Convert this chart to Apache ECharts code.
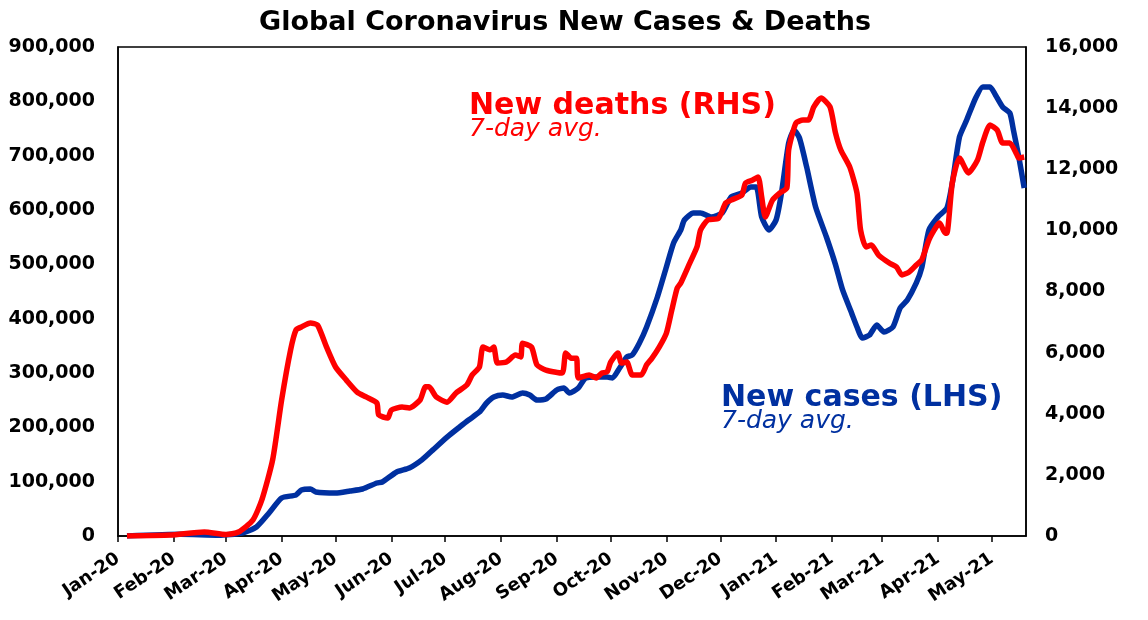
<!DOCTYPE html>
<html>
<head>
<meta charset="utf-8">
<script src="https://cdn.jsdelivr.net/npm/echarts@6/dist/echarts.min.js"></script>
<style>
html,body{margin:0;padding:0;background:#fff;}
#chart{width:1148px;height:620px;}
</style>
</head>
<body>
<div id="chart"></div>
<script>
// ---- data ----
const titleText = 'Global Coronavirus New Cases & Deaths';
const monthLabels = ['Jan','Feb','Mar','Apr','May','Jun','Jul','Aug','Sep','Oct','Nov','Dec'];

const caseDates = ['2020-01-06','2020-02-05','2020-02-26','2020-03-10','2020-03-18','2020-03-25','2020-04-01','2020-04-09','2020-04-12','2020-04-17','2020-04-20','2020-05-01','2020-05-09','2020-05-16','2020-05-24','2020-05-27','2020-06-04','2020-06-11','2020-06-18','2020-06-24','2020-07-02','2020-07-09','2020-07-14','2020-07-20','2020-07-24','2020-07-28','2020-08-02','2020-08-07','2020-08-13','2020-08-17','2020-08-21','2020-08-26','2020-09-01','2020-09-05','2020-09-08','2020-09-13','2020-09-17','2020-09-23','2020-09-29','2020-10-02','2020-10-06','2020-10-10','2020-10-13','2020-10-17','2020-10-21','2020-10-27','2020-11-01','2020-11-05','2020-11-09','2020-11-11','2020-11-16','2020-11-20','2020-11-26','2020-12-02','2020-12-07','2020-12-13','2020-12-18','2020-12-21','2020-12-24','2020-12-28','2021-01-01','2021-01-04','2021-01-08','2021-01-11','2021-01-14','2021-01-18','2021-01-23','2021-01-29','2021-02-03','2021-02-07','2021-02-12','2021-02-15','2021-02-18','2021-02-22','2021-02-26','2021-03-02','2021-03-07','2021-03-11','2021-03-15','2021-03-20','2021-03-23','2021-03-27','2021-04-01','2021-04-06','2021-04-09','2021-04-13','2021-04-17','2021-04-22','2021-04-26','2021-04-30','2021-05-03','2021-05-07','2021-05-11','2021-05-13','2021-05-16','2021-05-19'];
const caseValues = [0,3000,1500,5500,16600,42300,70000,75500,84700,86500,81000,79100,82800,86500,97500,99400,117800,125000,140000,158000,182000,200600,213500,228000,244800,255800,259500,255800,263200,259500,250300,252100,268700,272400,263200,272400,290800,292600,292600,290800,309200,329500,333100,355200,384700,439900,495100,539300,563200,581600,594500,594500,587100,594500,623900,631300,642300,642300,587100,563200,581600,631300,723300,747200,732500,679200,605500,550300,500000,452800,410400,384700,364400,370000,388400,375500,384700,419600,434400,465700,493300,563200,587100,603700,649700,734400,765600,806100,826400,826400,811700,789600,778500,747200,697500,640500];

const deathDates = ['2020-01-06','2020-01-30','2020-02-18','2020-03-01','2020-03-08','2020-03-16','2020-03-21','2020-03-27','2020-04-01','2020-04-06','2020-04-09','2020-04-12','2020-04-17','2020-04-21','2020-04-26','2020-05-01','2020-05-07','2020-05-13','2020-05-18','2020-05-24','2020-05-25','2020-05-30','2020-06-01','2020-06-07','2020-06-11','2020-06-17','2020-06-20','2020-06-22','2020-06-26','2020-07-02','2020-07-07','2020-07-13','2020-07-16','2020-07-20','2020-07-22','2020-07-26','2020-07-28','2020-07-30','2020-08-04','2020-08-09','2020-08-12','2020-08-13','2020-08-18','2020-08-21','2020-08-26','2020-09-04','2020-09-06','2020-09-09','2020-09-12','2020-09-13','2020-09-19','2020-09-23','2020-09-26','2020-09-29','2020-10-01','2020-10-05','2020-10-07','2020-10-10','2020-10-13','2020-10-18','2020-10-21','2020-10-24','2020-10-28','2020-11-01','2020-11-04','2020-11-07','2020-11-09','2020-11-13','2020-11-18','2020-11-20','2020-11-24','2020-11-30','2020-12-04','2020-12-07','2020-12-13','2020-12-15','2020-12-19','2020-12-22','2020-12-24','2020-12-26','2020-12-30','2021-01-03','2021-01-07','2021-01-08','2021-01-12','2021-01-16','2021-01-19','2021-01-22','2021-01-26','2021-01-31','2021-02-03','2021-02-06','2021-02-11','2021-02-15','2021-02-17','2021-02-20','2021-02-23','2021-02-27','2021-03-05','2021-03-09','2021-03-12','2021-03-16','2021-03-20','2021-03-23','2021-03-27','2021-03-31','2021-04-02','2021-04-05','2021-04-06','2021-04-09','2021-04-13','2021-04-18','2021-04-23','2021-04-26','2021-04-30','2021-05-04','2021-05-07','2021-05-11','2021-05-15','2021-05-16','2021-05-19'];
const deathValues = [0,30,130,50,130,520,1180,2490,4450,6090,6740,6840,6970,6900,6180,5530,5100,4710,4550,4350,3960,3860,4120,4220,4190,4450,4880,4880,4550,4380,4680,4940,5270,5530,6180,6090,6180,5660,5690,5920,5860,6310,6180,5600,5430,5330,5990,5820,5820,5170,5270,5170,5330,5370,5690,5990,5660,5690,5270,5270,5600,5820,6180,6640,7390,8110,8280,8800,9460,10010,10340,10400,10900,10990,11160,11550,11650,11750,11090,10440,10990,11220,11390,12630,13510,13610,13610,14040,14330,14040,13200,12630,12070,11220,10010,9460,9520,9190,8930,8800,8540,8640,8870,9030,9690,10110,10240,9910,9910,11550,12370,11880,12300,12890,13450,13280,12860,12860,12470,12370,12400];

const xMin = '2020-01-01';
const xMax = '2021-05-20';

const leftTicks = {min: 0, max: 900000, interval: 100000};
const rightTicks = {min: 0, max: 16000, interval: 2000};

const deathsLabel = 'New deaths (RHS)';
const casesLabel = 'New cases (LHS)';
const avgLabel = '7-day avg.';

// ---- chart ----
const RED = '#ff0000';
const BLUE = '#0030a0';
const FONT = 'DejaVu Sans';
const DAY = 86400000;

const chart = echarts.init(document.getElementById('chart'), null, {renderer: 'canvas'});

function fmtNum(v){ return Number(v).toLocaleString('en-US'); }

const option = {
  backgroundColor: '#ffffff',
  animation: false,
  grid: {left: 118, right: 122, top: 47, bottom: 84, show: true, borderColor: '#000', borderWidth: 1.5, backgroundColor: 'transparent'},
  xAxis: {
    type: 'time',
    min: xMin,
    max: xMax,
    minInterval: 28 * DAY,
    maxInterval: 31 * DAY,
    axisLine: {show: true, lineStyle: {color: '#000', width: 1.5}},
    axisTick: {show: true, length: 6, lineStyle: {color: '#000', width: 1.5}},
    splitLine: {show: false},
    axisLabel: {
      rotate: 34,
      margin: 21,
      color: '#000',
      fontFamily: FONT,
      fontWeight: 'bold',
      fontSize: 18,
      hideOverlap: false,
      showMinLabel: true,
      showMaxLabel: false,
      formatter: function (v) {
        const d = new Date(v);
        return monthLabels[d.getMonth()] + '-' + String(d.getFullYear()).slice(2);
      }
    }
  },
  yAxis: [
    {
      type: 'value', position: 'left',
      min: leftTicks.min, max: leftTicks.max, interval: leftTicks.interval,
      axisLine: {show: true, lineStyle: {color: '#000', width: 1.5}},
      axisTick: {show: false},
      splitLine: {show: false},
      axisLabel: {color: '#000', fontFamily: FONT, fontWeight: 'bold', fontSize: 19, margin: 23, formatter: fmtNum}
    },
    {
      type: 'value', position: 'right',
      min: rightTicks.min, max: rightTicks.max, interval: rightTicks.interval,
      axisLine: {show: true, lineStyle: {color: '#000', width: 1.5}},
      axisTick: {show: false},
      splitLine: {show: false},
      axisLabel: {color: '#000', fontFamily: FONT, fontWeight: 'bold', fontSize: 19, margin: 19, formatter: fmtNum}
    }
  ],
  series: [
    {
      name: casesLabel,
      type: 'line',
      yAxisIndex: 0,
      showSymbol: false,
      smooth: 0.2,
      lineStyle: {color: BLUE, width: 5.5},
      itemStyle: {color: BLUE},
      data: caseDates.map((d, i) => [d, caseValues[i]])
    },
    {
      name: deathsLabel,
      type: 'line',
      yAxisIndex: 1,
      showSymbol: false,
      smooth: 0.2,
      lineStyle: {color: RED, width: 5.5},
      itemStyle: {color: RED},
      data: deathDates.map((d, i) => [d, deathValues[i]])
    }
  ],
  graphic: [
    {type: 'text', x: 565, y: 23, style: {text: titleText, fill: '#000', font: 'bold 27px "DejaVu Sans"', align: 'center', verticalAlign: 'middle'}},
    {type: 'text', x: 469, y: 106, style: {text: deathsLabel, fill: RED, font: 'bold 30px "DejaVu Sans"', align: 'left', verticalAlign: 'middle'}},
    {type: 'text', x: 469, y: 129, style: {text: avgLabel, fill: RED, font: 'oblique 25px "DejaVu Sans"', align: 'left', verticalAlign: 'middle'}},
    {type: 'text', x: 721, y: 398, style: {text: casesLabel, fill: BLUE, font: 'bold 30px "DejaVu Sans"', align: 'left', verticalAlign: 'middle'}},
    {type: 'text', x: 721, y: 421, style: {text: avgLabel, fill: BLUE, font: 'oblique 25px "DejaVu Sans"', align: 'left', verticalAlign: 'middle'}}
  ]
};
chart.setOption(option);
</script>
</body>
</html>
